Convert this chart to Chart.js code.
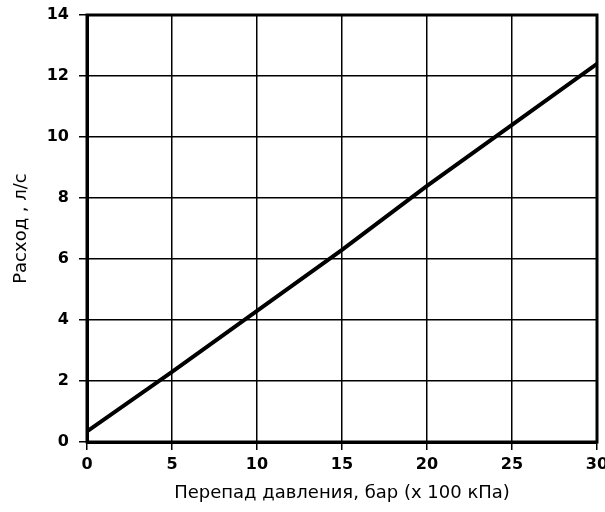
<!DOCTYPE html>
<html>
<head>
<meta charset="utf-8">
<script src="https://cdn.jsdelivr.net/npm/chart.js@4/dist/chart.umd.min.js"></script>
<style>
    html, body { margin: 0; padding: 0; background: #fff; }
    #wrap { width: 605px; height: 512px; }
</style>
</head>
<body>
<div id="wrap"><canvas id="flowChart"></canvas></div>
<script>
// значения
let pressureDrop = [0, 5, 10, 15, 20, 25, 30];
let flowRate = [0.35, 2.3, 4.3, 6.3, 8.4, 10.4, 12.4];
let xTicks = [0, 5, 10, 15, 20, 25, 30];
let yTicks = [0, 2, 4, 6, 8, 10, 12, 14];

let xTitle = 'Перепад давления, бар (х 100 кПа)';
let yTitle = 'Расход , л/с';

// рамка вокруг области построения
let frame = {
    id: 'frame',
    afterDraw(chart) {
        let a = chart.chartArea;
        let c = chart.ctx;
        c.save();
        c.strokeStyle = '#000';
        c.lineWidth = 3;
        c.strokeRect(a.left, a.top, a.right - a.left, a.bottom - a.top);
        c.restore();
    }
};

let tickFont = { family: 'DejaVu Sans', size: 16, weight: 'bold' };
let titleFont = { family: 'DejaVu Sans', size: 18 };

new Chart(document.getElementById('flowChart'), {
    type: 'line',
    data: {
        datasets: [{
            data: pressureDrop.map((x, i) => ({ x: x, y: flowRate[i] })),
            borderColor: '#000',
            borderWidth: 4,
            pointRadius: 0,
            fill: false,
            tension: 0,
        }]
    },
    options: {
        responsive: true,
        maintainAspectRatio: false,
        animation: false,
        layout: { padding: { top: 15, right: 8, left: 0, bottom: 0 } },
        plugins: { legend: { display: false }, tooltip: { enabled: false } },
        scales: {
            x: {
                type: 'linear',
                min: 0,
                max: 30,
                afterBuildTicks: (s) => { s.ticks = xTicks.map(v => ({ value: v })); },
                afterFit: (s) => { s.height = 70; s.paddingLeft = 0; s.paddingRight = 0; },
                grid: { color: '#000', lineWidth: 1.5, tickLength: 8 },
                border: { color: '#000', width: 3 },
                ticks: { color: '#000', font: tickFont, padding: 5, maxRotation: 0 },
                title: { display: true, text: xTitle, color: '#000', font: titleFont, padding: { top: 0, bottom: 8 } },
            },
            y: {
                min: 0,
                max: 14,
                afterBuildTicks: (s) => { s.ticks = yTicks.map(v => ({ value: v })); },
                afterFit: (s) => { s.width = 87; s.paddingTop = 0; s.paddingBottom = 0; },
                grid: { color: '#000', lineWidth: 1.5, tickLength: 8 },
                border: { color: '#000', width: 3 },
                ticks: { color: '#000', font: tickFont, padding: 10 },
                title: { display: true, text: yTitle, color: '#000', font: titleFont, padding: { top: 11, bottom: 0 } },
            },
        },
    },
    plugins: [frame],
});
</script>
</body>
</html>
